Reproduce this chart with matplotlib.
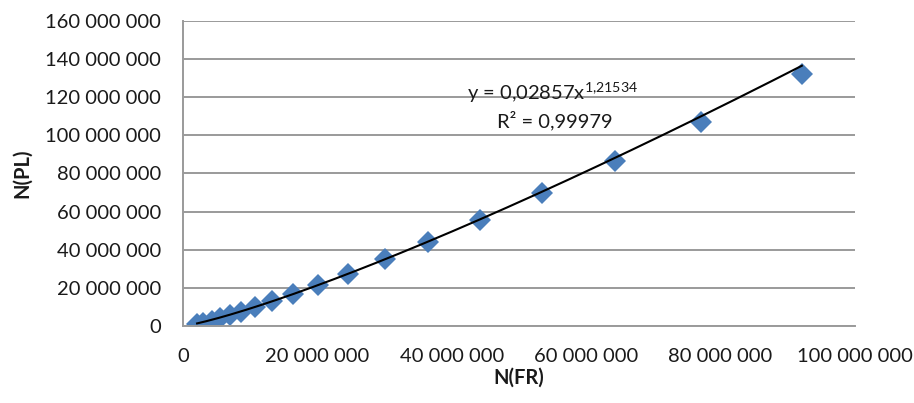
import numpy as np
import matplotlib
matplotlib.use('Agg')
import matplotlib.pyplot as plt
from matplotlib.ticker import FuncFormatter

# N(FR) and N(PL)
n_fr = [2.1e6, 3.0e6, 4.3e6, 5.5e6, 7.0e6, 8.6e6, 10.7e6, 13.2e6, 16.4e6,
        20.1e6, 24.6e6, 30.1e6, 36.5e6, 44.2e6, 53.4e6, 64.3e6, 77.1e6, 92.1e6]
n_pl = [1.0e6, 1.6e6, 2.6e6, 4.2e6, 5.8e6, 7.3e6, 10.0e6, 13.1e6, 16.8e6,
        21.5e6, 27.3e6, 35.2e6, 44.1e6, 55.6e6, 69.8e6, 86.6e6, 107.1e6, 132.3e6]

# power trend line from the chart label
fit_a = 0.02857
fit_b = 1.21534
fit_r2 = 0.99979

plt.rcParams['font.family'] = ['Lato', 'DejaVu Sans']
plt.rcParams['mathtext.fontset'] = 'custom'
plt.rcParams['mathtext.rm'] = 'Lato'
plt.rcParams['mathtext.default'] = 'regular'

fig = plt.figure(figsize=(9.14, 4.03), dpi=100)
ax = fig.add_axes([0.2002, 0.191, 0.7352, 0.757])

grid_col = '#9a9a9a'
txt_col = '#1a1a1a'
ax.set_xlim(0, 100e6)
ax.set_ylim(0, 160e6)
ax.set_xticks(np.arange(0, 100e6 + 1, 20e6))
ax.set_yticks(np.arange(0, 160e6 + 1, 20e6))
ax.yaxis.grid(True, color=grid_col, linewidth=1.4)
ax.set_axisbelow(True)

fmt = FuncFormatter(lambda v, p: f"{int(round(v)):,}".replace(',', ' '))
ax.xaxis.set_major_formatter(fmt)
ax.yaxis.set_major_formatter(fmt)
ax.tick_params(length=0, labelsize=14.5, colors=txt_col)
ax.tick_params(axis='x', pad=16)
ax.tick_params(axis='y', pad=16)

for s in ['top', 'right']:
    ax.spines[s].set_visible(False)
for s in ['left', 'bottom']:
    ax.spines[s].set_color(grid_col)
    ax.spines[s].set_linewidth(1.4)

xs = np.linspace(min(n_fr), max(n_fr), 200)
ax.plot(xs, fit_a * xs ** fit_b, color='black', linewidth=1.5, zorder=3)
ax.plot(n_fr, n_pl, linestyle='none', marker='D', markersize=11,
        color='#4a7ebb', markeredgewidth=0, zorder=2)

ax.text(55e6, 122.5e6, r'y = 0,02857x$^{1{,}21534}$', ha='center', va='center',
        fontsize=14.5, color=txt_col)
ax.text(55.3e6, 108e6, 'R² = ' + f"{fit_r2}".replace('.', ','), ha='center',
        va='center', fontsize=14.5, color=txt_col)

ax.set_xlabel('N(FR)', fontsize=14.5, fontweight='bold', labelpad=2, color=txt_col)
ax.set_ylabel('N(PL)', fontsize=14.5, fontweight='bold', labelpad=9, color=txt_col)

fig.savefig('out.png', dpi=100)
